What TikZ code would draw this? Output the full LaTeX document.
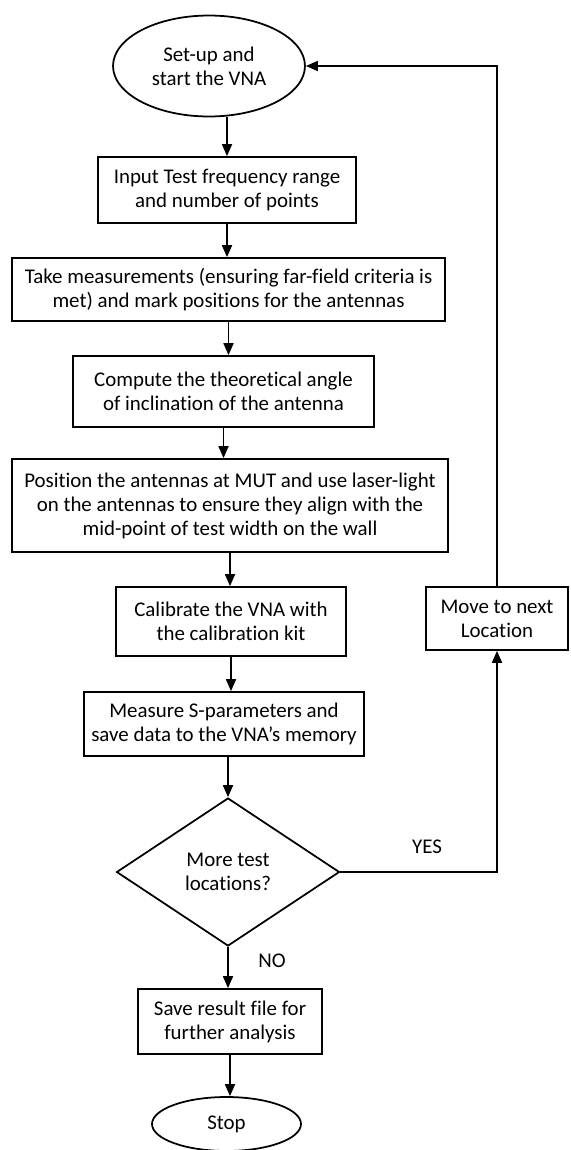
\documentclass[tikz,border=0pt]{standalone}
\usepackage{fontspec}
\setmainfont{Carlito}[Ligatures=NoCommon]
\usetikzlibrary{shapes.geometric,arrows.meta}

\begin{document}
\begin{tikzpicture}[x=0.02cm, y=-0.02cm, line width=1pt,
		every node/.style={font=\fontsize{11.9}{13.7}\selectfont, align=center},
		proc/.style={rectangle, draw, inner sep=0pt},
		term/.style={ellipse, draw, inner sep=0pt},
		dec/.style={diamond, draw, inner sep=0pt},
		arr/.style={-{Triangle[length=0.24cm, width=0.2cm]}}]
			\useasboundingbox (0,0) rectangle (571,1150);

			% Nodes
			\node[term, minimum width=3.84cm, minimum height=2.02cm] (setup) at (209,66) {Set-up and\\start the VNA};
			\node[proc, minimum width=5.16cm, minimum height=1.32cm] (input) at (227,190) {Input Test frequency range\\and number of points};
			\node[proc, minimum width=8.66cm, minimum height=1.26cm] (measure) at (228.5,289.5) {Take measurements (ensuring far-field criteria is\\met) and mark positions for the antennas};
			\node[proc, minimum width=6.02cm, minimum height=1.42cm] (angle) at (223.5,391.5) {Compute the theoretical angle\\of inclination of the antenna};
			\node[proc, minimum width=8.72cm, minimum height=1.86cm] (align) at (230,505.5) {Position the antennas at MUT and use laser-light\\on the antennas to ensure they align with the\\mid-point of test width on the wall};
			\node[proc, minimum width=4.6cm, minimum height=1.38cm] (calib) at (231,621.5) {Calibrate the VNA with\\the calibration kit};
			\node[proc, minimum width=5.6cm, minimum height=1.28cm] (sparam) at (224,724) {Measure S-parameters and\\save data to the VNA’s memory};
			\node[dec, minimum width=4.46cm, minimum height=2.96cm] (more) at (228,872) {More test\\locations?};
			\node[proc, minimum width=2.84cm, minimum height=1.26cm] (move) at (497,618.5) {Move to next\\Location};
			\node[proc, minimum width=3.68cm, minimum height=1.3cm] (save) at (230,1021.5) {Save result file for\\further analysis};
			\node[term, minimum width=2.98cm, minimum height=1.08cm] (stop) at (226.5,1124) {Stop};

			% Labels
			\node (yes) at (427,847) {YES};
			\node (no) at (272,961) {NO};

			% Edges
			\draw[arr] (setup.south -| input.north) -- (input.north);
			\draw[arr] (input.south) -- (input.south |- measure.north);
			\draw[arr] (measure.south) -- (measure.south |- angle.north);
			\draw[arr] (angle.south) -- (angle.south |- align.north);
			\draw[arr] (align.south) -- (align.south |- calib.north);
			\draw[arr] (calib.south) -- (calib.south |- sparam.north);
			\draw[arr] (sparam.south -| more.north) -- (more.north);
			\draw[arr] (more.south) -- (more.south |- save.north);
			\draw[arr] (save.south) -- (save.south |- stop.north);
			\draw[arr] (more.east) -| (move.south);
			\draw[arr] (move.north) |- (setup.east);
		\end{tikzpicture}
\end{document}
